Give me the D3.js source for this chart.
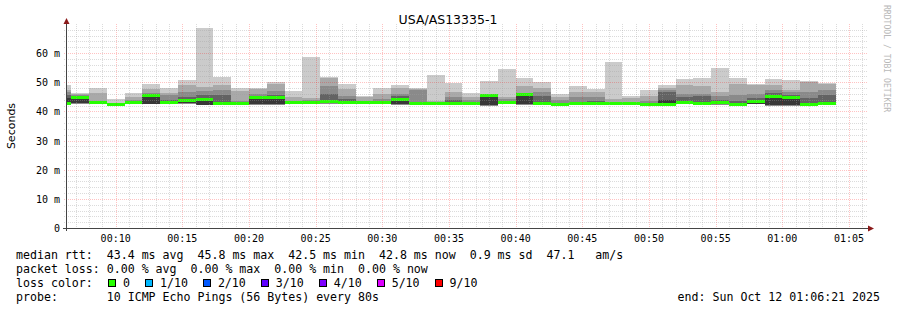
<!DOCTYPE html>
<html>
<head>
<meta charset="utf-8">
<script src="https://cdn.jsdelivr.net/npm/d3@7"></script>
<style>
  body { margin: 0; background: #fff; }
  svg { display: block; }
  text { white-space: pre; }
</style>
</head>
<body>
<svg id="chart" width="897" height="310"></svg>
<script>
"use strict";
// chart data
const chartTitle = "USA/AS13335-1";
const yTicks = [0, 10, 20, 30, 40, 50, 60];
const stepSeconds = 80;
const windowStart = "00:06:21";
const windowEnd = "01:06:21";
const firstBinEnd = "00:06:40";

// ms, one value per 80 s bin (10 pings sorted -> smoke bands)
const pingMin = [42.3,42.4,42.5,42.2,42.5,42.4,42.5,42.4,42.1,42.3,42.3,42.3,42.2,42.5,42.7,42.6,42.5,42.6,42.5,42.3,42.3,42.3,42.3,42.4,42.0,42.6,42.3,42.3,42.2,42.3,42.4,42.3,42.3,42.1,42.2,42.5,42.3,42.3,42.2,42.4,42.0,42.0,42.1,42.4];
const ping5 = [43.3,42.7,42.8,42.4,42.8,42.6,42.8,42.7,42.3,42.5,42.5,42.5,42.4,42.8,43.0,43.0,42.8,42.9,42.8,42.6,42.5,42.5,42.5,42.6,42.2,42.9,42.6,42.5,42.4,42.5,42.6,42.5,42.5,42.3,42.4,42.8,42.5,42.6,42.4,42.6,42.2,42.2,42.3,42.6];
const ping6 = [44.5,45.0,42.95,42.6,43.0,45.8,43.0,44.0,44.1,42.7,42.7,44.8,44.8,43.0,43.3,44.0,43.0,43.2,43.0,44.1,42.7,42.7,42.7,42.8,45.6,43.2,46.0,42.7,42.6,42.7,42.8,42.7,42.7,42.6,44.0,43.0,42.7,43.4,42.6,43.5,45.4,44.9,42.6,42.9];
const ping7 = [45.5,45.2,43.0,42.7,43.2,45.9,44.0,45.0,45.6,45.5,43.0,45.3,45.5,43.2,43.4,46.0,44.2,43.3,43.4,45.2,43.0,42.8,43.8,43.0,45.1,43.5,46.1,45.4,43.0,43.3,43.5,42.9,42.9,42.8,46.5,45.0,45.3,44.0,43.5,44.5,46.3,45.5,44.5,45.5];
const ping8 = [46.5,45.5,43.2,42.8,44.0,46.2,45.6,46.7,47.0,47.2,43.5,46.0,47.0,43.7,43.8,48.6,45.4,43.6,44.3,46.0,47.3,43.0,45.0,43.8,45.3,44.3,46.0,46.7,44.0,45.0,45.0,43.2,43.3,43.5,47.4,46.0,46.1,45.4,45.6,46.0,47.3,46.6,46.5,47.2];
const ping9 = [47.3,45.9,46.2,43.0,45.0,47.6,46.4,48.9,48.2,49.0,46.9,47.5,49.4,44.8,44.6,51.3,47.5,44.8,45.9,48.0,47.5,43.6,46.5,45.0,45.6,45.0,48.8,48.0,45.0,46.6,46.6,44.3,44.5,45.2,48.1,48.9,48.6,46.8,49.3,49.2,49.0,47.2,50.0,49.5];
const pingMax = [49.0,46.2,48.1,44.2,46.3,49.5,48.1,50.9,68.7,51.8,47.9,48.1,50.2,47.1,58.7,51.7,49.5,45.4,48.1,49.1,47.9,52.6,49.8,46.2,50.4,54.6,51.5,50.1,46.0,48.7,47.8,57.0,45.3,47.3,49.0,51.1,51.5,55.0,51.5,49.4,51.1,50.7,50.4,49.7];
const medianRtt = [42.6,44.7,42.9,42.5,42.9,45.6,42.9,43.8,43.9,42.6,42.6,44.6,44.6,42.9,43.2,43.3,42.9,43.1,42.9,43.9,42.6,42.6,42.6,42.7,45.4,43.1,45.8,42.6,42.5,42.6,42.7,42.6,42.6,42.5,42.5,42.9,42.6,43.2,42.5,43.3,45.2,44.7,42.5,42.8];

const lossLabels = ["0", "1/10", "2/10", "3/10", "4/10", "5/10", "9/10"];
const lossColors = ["#26ff00", "#00b8ff", "#0059ff", "#5e00ff", "#7e00ff", "#dd00ff", "#ff0000"];

const legendLines = [
  "median rtt:  43.4 ms avg  45.8 ms max  42.5 ms min  42.8 ms now  0.9 ms sd  47.1   am/s",
  "packet loss: 0.00 % avg  0.00 % max  0.00 % min  0.00 % now",
  "loss color:",
  "probe:       10 ICMP Echo Pings (56 Bytes) every 80s"
];
const endLabel = "end: Sun Oct 12 01:06:21 2025";

// ---------------------------------------------------------------
const mono = "'DejaVu Sans Mono', monospace";
const sans = "'DejaVu Sans', sans-serif";
const svg = d3.select("#chart");
const parseT = d3.timeParse("%Y-%m-%d %H:%M:%S");
const day = "2025-10-12 ";

const plot = {left: 67, right: 867, top: 24, bottom: 228};

const x = d3.scaleTime()
  .domain([parseT(day + windowStart), parseT(day + windowEnd)])
  .range([plot.left, plot.right]);
const y = d3.scaleLinear().domain([0, 70]).range([plot.bottom, 228 - 70 * 175 / 60]);

const t0 = parseT(day + firstBinEnd);
const bins = medianRtt.map((m, i) => {
  const end = d3.timeSecond.offset(t0, i * stepSeconds);
  return {
    start: d3.timeSecond.offset(end, -stepSeconds), end: end,
    min: pingMin[i], p5: ping5[i], p6: ping6[i], p7: ping7[i],
    p8: ping8[i], p9: ping9[i], max: pingMax[i], median: m
  };
});

svg.append("rect").attr("width", 897).attr("height", 310).attr("fill", "#fff");

svg.append("defs").append("clipPath").attr("id", "plotclip")
  .append("rect")
  .attr("x", plot.left).attr("y", plot.top)
  .attr("width", plot.right - plot.left).attr("height", plot.bottom - plot.top);

const g = svg.append("g").attr("clip-path", "url(#plotclip)");

// smoke: outer bands light, inner bands dark
const bands = [
  {lo: "min", hi: "max", color: "#cbcbcb"},
  {lo: "min", hi: "p9", color: "#a9a9a9"},
  {lo: "min", hi: "p8", color: "#8a8a8a"},
  {lo: "p5", hi: "p7", color: "#636363"},
  {lo: "p5", hi: "p6", color: "#383838"}
];
bands.forEach(b => {
  g.append("g").selectAll("rect").data(bins).join("rect")
    .attr("x", d => x(d.start))
    .attr("width", d => x(d.end) - x(d.start))
    .attr("y", d => y(d[b.hi]))
    .attr("height", d => y(d[b.lo]) - y(d[b.hi]))
    .attr("fill", b.color)
    .attr("shape-rendering", "crispEdges");
});

// median, coloured by loss (all 0 here)
g.append("g").selectAll("rect").data(bins).join("rect")
  .attr("x", d => x(d.start))
  .attr("width", d => x(d.end) - x(d.start))
  .attr("y", d => y(d.median) - 1.5)
  .attr("height", 3)
  .attr("fill", lossColors[0])
  .attr("shape-rendering", "crispEdges");

// grid on top, like rrdtool
const grid = svg.append("g").attr("shape-rendering", "crispEdges");
const minorCol = "rgba(160,160,160,0.38)";
const majorCol = "rgba(255,0,0,0.24)";

const minuteTicks = x.ticks(d3.timeMinute.every(1));
grid.selectAll(".vminor").data(minuteTicks).join("line")
  .attr("x1", d => Math.round(x(d)) + 0.5).attr("x2", d => Math.round(x(d)) + 0.5)
  .attr("y1", plot.top).attr("y2", plot.bottom + 2)
  .attr("stroke", d => d.getMinutes() % 5 === 0 ? majorCol : minorCol)
  .attr("stroke-dasharray", "1,1");

const yMinor = d3.range(2, 70, 2);
grid.selectAll(".hminor").data(yMinor).join("line")
  .attr("x1", plot.left - 3).attr("x2", plot.right)
  .attr("y1", d => Math.round(y(d)) + 0.5).attr("y2", d => Math.round(y(d)) + 0.5)
  .attr("stroke", d => d % 10 === 0 ? majorCol : minorCol)
  .attr("stroke-dasharray", "1,1");

// axes
const axisCol = "#444";
svg.append("line")
  .attr("x1", plot.left - 0.5).attr("x2", plot.left - 0.5)
  .attr("y1", plot.bottom + 3).attr("y2", 20)
  .attr("stroke", axisCol);
svg.append("line")
  .attr("x1", plot.left - 4).attr("x2", plot.right + 3)
  .attr("y1", plot.bottom + 0.5).attr("y2", plot.bottom + 0.5)
  .attr("stroke", axisCol);
svg.append("path").attr("d", "M63.5,24 L66.5,18 L69.5,24 Z").attr("fill", "#8b1a1a");
svg.append("path").attr("d", "M868,225.5 L874,228.5 L868,231.5 Z").attr("fill", "#8b1a1a");

// y labels
svg.append("g").selectAll("text").data(yTicks).join("text")
  .attr("x", 60).attr("y", d => y(d) + 4)
  .attr("text-anchor", "end")
  .attr("font-family", mono).attr("font-size", 10)
  .text(d => d === 0 ? "0" : d + " m");

// x labels
svg.append("g").selectAll("text").data(x.ticks(d3.timeMinute.every(5))).join("text")
  .attr("x", d => x(d)).attr("y", 241.5)
  .attr("text-anchor", "middle")
  .attr("font-family", mono).attr("font-size", 10)
  .text(d3.timeFormat("%H:%M"));

// title and axis label
svg.append("text").attr("x", 448).attr("y", 24)
  .attr("text-anchor", "middle").attr("font-family", sans).attr("font-size", 12.5)
  .text(chartTitle);
svg.append("text")
  .attr("transform", "translate(15,126) rotate(-90)")
  .attr("text-anchor", "middle").attr("font-family", sans).attr("font-size", 11)
  .text("Seconds");
svg.append("text")
  .attr("transform", "translate(884,5) rotate(90)")
  .attr("font-family", mono).attr("font-size", 8.1).attr("fill", "#b8b8b8")
  .text("RRDTOOL / TOBI OETIKER");

// legend
const charW = 6.98;
const legend = svg.append("g").attr("font-family", mono).attr("font-size", 11.6);
legend.selectAll("text.line").data(legendLines).join("text")
  .attr("class", "line")
  .attr("x", 16).attr("y", (d, i) => 258.5 + i * 14)
  .text(d => d);

let sx = 108;
lossLabels.forEach((lab, i) => {
  legend.append("rect")
    .attr("x", sx + 0.5).attr("y", 279.5).attr("width", 7).attr("height", 7)
    .attr("fill", lossColors[i]).attr("stroke", "#000").attr("stroke-width", 1)
    .attr("shape-rendering", "crispEdges");
  const tx = sx + 15;
  legend.append("text").attr("x", tx).attr("y", 286.5).text(lab);
  sx = tx + lab.length * charW + 15;
});

legend.append("text").attr("x", 880).attr("y", 300.5)
  .attr("text-anchor", "end").text(endLabel);
</script>
</body>
</html>
